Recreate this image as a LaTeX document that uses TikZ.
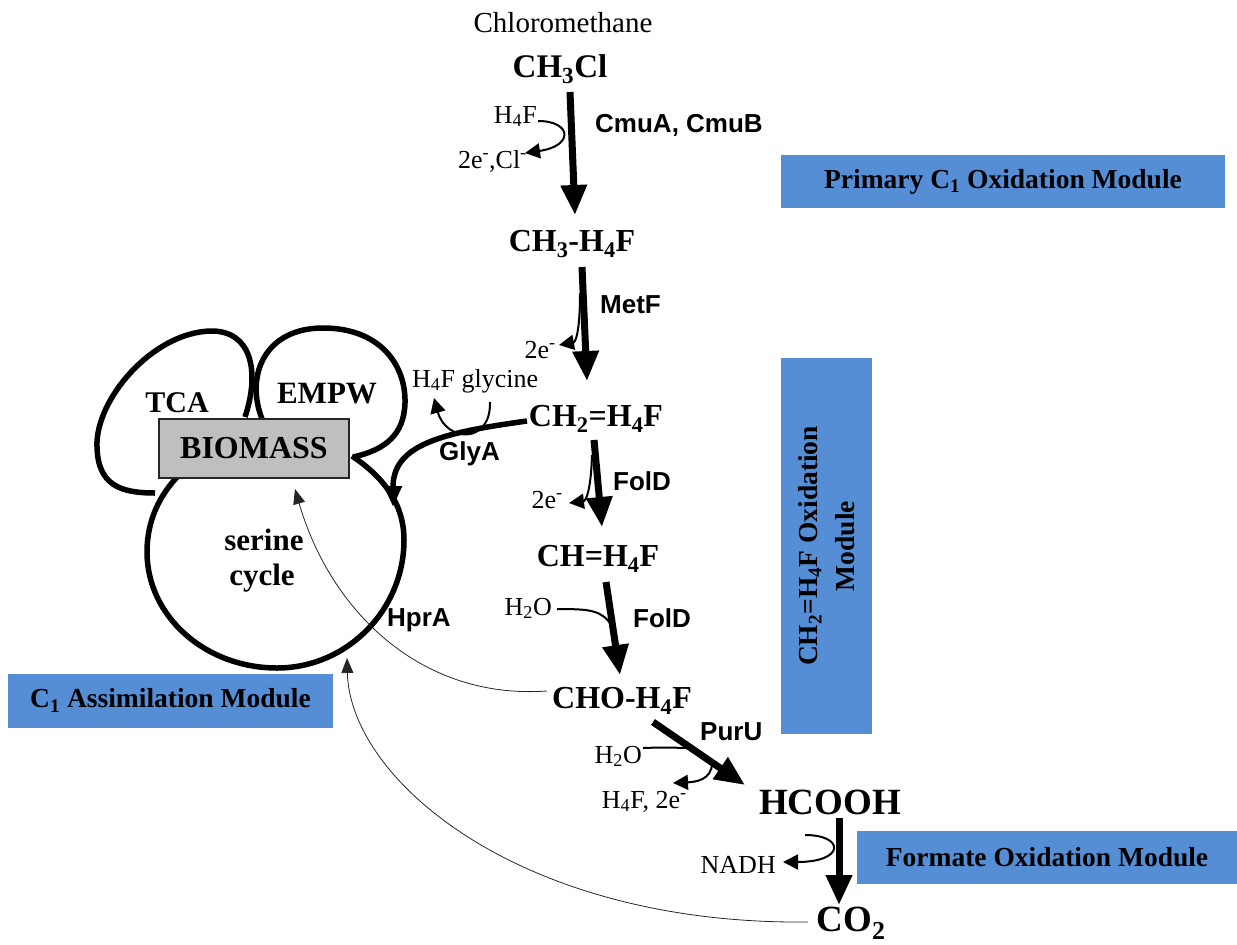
\documentclass[tikz,border=0pt]{standalone}
\usepackage{fontspec}
\setmainfont{Liberation Serif}
\setsansfont{Liberation Sans}
\usetikzlibrary{arrows.meta,calc}
\definecolor{modblue}{RGB}{85,142,213}
\definecolor{biogray}{RGB}{191,191,191}
\newcommand{\fsz}[1]{\fontsize{#1}{#1}\selectfont}
\begin{document}
\begin{tikzpicture}[x=1pt,y=-1pt,
  cpd/.style={font=\bfseries\fsz{32}, inner sep=0pt, anchor=base},
  cpdbig/.style={font=\bfseries\fsz{37}, inner sep=0pt, anchor=base},
  gene/.style={font=\sffamily\bfseries\fsz{26}, inner sep=0pt, anchor=base west},
  lab/.style={font=\fsz{26}, inner sep=0pt, anchor=base east},
  labw/.style={font=\fsz{26}, inner sep=0pt, anchor=base west},
  module/.style={fill=modblue, inner sep=0pt, font=\bfseries\fontsize{27.5}{37}\selectfont},
  mainarrow/.style={line width=7pt, -{Triangle[width=25pt,length=30pt]}},
  sidearrow/.style={line width=2pt, -{Triangle[width=15pt,length=15pt]}},
  sideline/.style={line width=2pt},
  thinarrow/.style={line width=0.8pt, black!85, -{Triangle[width=12pt,length=15pt]}},
  loopline/.style={line width=5.5pt}]
\useasboundingbox (0,0) rectangle (1237,945);

% module boxes
\node[module, minimum width=444pt, minimum height=53pt] (mod1) at (1003,181.5) {Primary C\textsubscript{1} Oxidation Module};
\node[module, minimum width=376pt, minimum height=91pt, rotate=90, align=center] (mod2) at (826.5,546) {CH\textsubscript{2}=H\textsubscript{4}F Oxidation\\Module};
\node[module, minimum width=325pt, minimum height=54pt] (mod3) at (170.5,700.5) {C\textsubscript{1} Assimilation Module};
\node[module, minimum width=380pt, minimum height=53pt] (mod4) at (1047,857.5) {Formate Oxidation Module};

% serine cycle and loops
\draw[loopline] (352,456) .. controls (385,478) and (404,505) .. (404,540)
  .. controls (404,610) and (347,668) .. (277,668)
  .. controls (205,668) and (147,616) .. (147,552)
  .. controls (147,520) and (160,495) .. (178,476);
\draw[loopline] (245,417) .. controls (260,372) and (252,330) .. (210,331)
  .. controls (152,333) and (95,400) .. (97,447)
  .. controls (98,485) and (120,493) .. (155,493);
\draw[loopline] (262,419) .. controls (245,375) and (265,328) .. (323,328)
  .. controls (380,328) and (406,365) .. (405,403)
  .. controls (404,435) and (385,450) .. (353,457);

\node[draw=black!85, line width=2pt, fill=biogray, minimum width=190pt, minimum height=59pt, inner sep=0pt, font=\bfseries\fsz{32}] (bio) at (254,448.5) {BIOMASS};
\node[cpd, font=\bfseries\fsz{30}] (tca) at (177,412) {TCA};
\node[cpd, font=\bfseries\fsz{31}] (empw) at (327,403) {EMPW};
\node[cpd, font=\bfseries\fsz{31}] (ser) at (264,550) {serine};
\node[cpd, font=\bfseries\fsz{31}] (cyc) at (262,585) {cycle};

% compounds
\node[font=\fsz{29}, inner sep=0pt, anchor=base] (chl) at (563,32) {Chloromethane};
\node[cpd, font=\bfseries\fsz{33}] (cl) at (560,77) {CH\textsubscript{3}Cl};
\node[cpd] (mh) at (572,251) {CH\textsubscript{3}-H\textsubscript{4}F};
\node[cpd] (mene) at (596,426) {CH\textsubscript{2}=H\textsubscript{4}F};
\node[cpd] (menyl) at (598,566) {CH=H\textsubscript{4}F};
\node[cpd] (fo) at (622,708) {CHO-H\textsubscript{4}F};
\node[cpdbig] (hcooh) at (830,814) {HCOOH};
\node[cpdbig] (co2) at (851,931) {CO\textsubscript{2}};

% enzymes
\node[gene] (cmu) at (595,132) {CmuA, CmuB};
\node[gene] (metf) at (600,313) {MetF};
\node[gene] (glya) at (439,460) {GlyA};
\node[gene] (fold1) at (613,490) {FolD};
\node[gene] (fold2) at (633,627) {FolD};
\node[gene] (hpra) at (387,626) {HprA};
\node[gene] (puru) at (700,740) {PurU};

% side labels
\node[lab] (h4fa) at (537,123) {H\textsubscript{4}F};
\node[lab] (ecl) at (527,168) {2e\textsuperscript{-},Cl\textsuperscript{-}};
\node[lab] (e1) at (556,358) {2e\textsuperscript{-}};
\node[labw] (gly) at (412,387) {H\textsubscript{4}F glycine};
\node[lab] (e2) at (563,508) {2e\textsuperscript{-}};
\node[lab] (h2oa) at (552,615) {H\textsubscript{2}O};
\node[lab] (h2ob) at (642,763) {H\textsubscript{2}O};
\node[lab] (h4fe) at (687,808) {H\textsubscript{4}F, 2e\textsuperscript{-}};
\node[lab] (nadh) at (776,873) {NADH};

% main arrows
\draw[mainarrow] ($(cl.base)+(10,15)$) -- ($(mh.base)+(3,-36)$);
\draw[mainarrow] ($(mh.base)+(10,16)$) -- ($(mene.base)+(-9,-45)$);
\draw[mainarrow] ($(mene.base)+(-2,14)$) -- ($(menyl.base)+(4,-39)$);
\draw[mainarrow] ($(menyl.base)+(8,16)$) -- ($(fo.base)+(-2,-33)$);
\draw[mainarrow] ($(fo.base)+(31,14)$) -- ($(hcooh.base)+(-85,-29)$);
\draw[mainarrow] ($(hcooh.base)+(9,4)$) -- ($(co2.base)+(-12,-26)$);

% side arrows
\draw[sidearrow] ($(h4fa.base east)+(1,-2)$) .. controls (572,121) and (574,146) .. ($(ecl.base east)+(-2,-15)$);
\draw[sidearrow] ($(mh.base)+(8,42)$) .. controls (580,330) and (576,342) .. ($(e1.base east)+(3,-13)$);
\draw[sidearrow] ($(mene.base)+(-4,29)$) .. controls (591,490) and (586,501) .. ($(e2.base east)+(6,-5)$);
\draw[sideline] ($(h2oa.base east)+(5,-6)$) .. controls (590,609) and (602,610) .. ($(menyl.base)+(14,60)$);
\draw[sideline] ($(h2ob.base east)+(1,-15)$) .. controls (670,747) and (680,748) .. ($(fo.base)+(64,40)$);
\draw[sidearrow] ($(fo.base)+(90,55)$) .. controls (712,780) and (695,782) .. ($(h4fe.base east)+(-14,-25)$);
\draw[sidearrow] ($(hcooh.base)+(-25,21)$) .. controls (845,835) and (845,862) .. ($(nadh.base east)+(7,-11)$);

% GlyA
\draw[line width=5.5pt, -{Triangle[width=17pt,length=21pt]}] ($(mene.base)+(-69,-5)$) .. controls (440,433) and (393,445) .. ($(ser.base)+(129,-43)$);
\draw[sidearrow] ($(gly.base west)+(78,15)$) .. controls (491,445) and (446,442) .. ($(gly.base west)+(22,11)$);

% thin assimilation arrows
\draw[thinarrow] ($(fo.base)+(-75,-17)$) .. controls (420,700) and (330,610) .. ($(bio.south)+(41,10)$);
\draw[thinarrow] ($(co2.base)+(-43,-9)$) .. controls (520,925) and (350,780) .. ($(cyc.base)+(85,73)$);
\end{tikzpicture}
\end{document}
